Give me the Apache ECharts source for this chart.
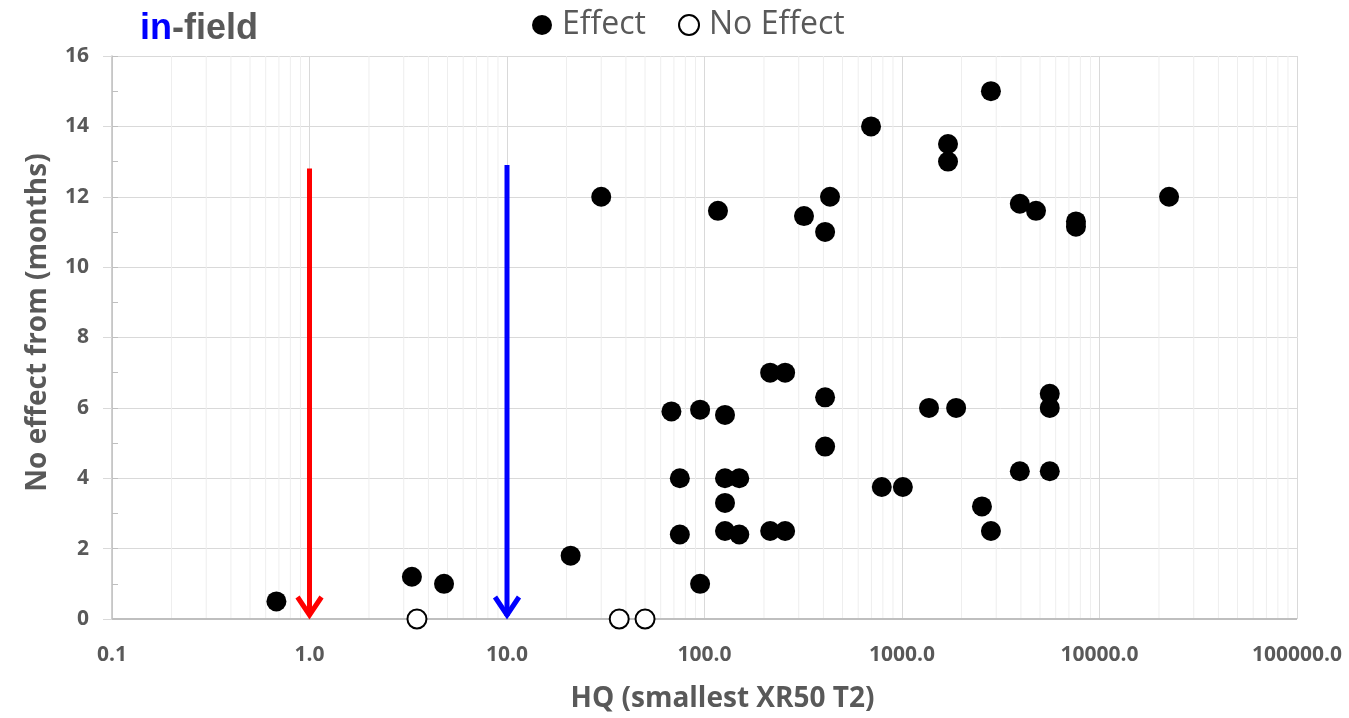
<!DOCTYPE html>
<html>
<head>
<meta charset="utf-8">
<script src="https://cdn.jsdelivr.net/npm/echarts@6/dist/echarts.min.js"></script>
<style>
  html, body { margin: 0; padding: 0; background: #fff; }
  #chart { width: 1349px; height: 718px; }
</style>
</head>
<body>
<div id="chart"></div>
<script>
// HQ values (x) and months (y)
const effectHQ = [0.68, 3.3, 4.8, 21, 30, 68, 95, 127, 75, 127, 150, 127, 75, 127, 150, 215, 256, 215, 256, 408, 408, 95,
  117, 319, 408, 432, 697, 1710, 1710, 2820, 3950, 4770, 7600, 7600, 22500, 790, 1010, 1370, 1880, 2540, 2820, 3950, 5600, 5600, 5600]
const effectMonths = [0.5, 1.2, 1.0, 1.8, 12, 5.9, 5.95, 5.8, 4.0, 4.0, 4.0, 3.3, 2.4, 2.5, 2.4, 2.5, 2.5, 7.0, 7.0, 6.3, 4.9, 1.0,
  11.6, 11.45, 11.0, 12.0, 14.0, 13.5, 13.0, 15.0, 11.8, 11.6, 11.3, 11.15, 12.0, 3.75, 3.75, 6.0, 6.0, 3.2, 2.5, 4.2, 4.2, 6.4, 6.0]
const noEffectHQ = [3.5, 37, 50]
const noEffectMonths = [0, 0, 0]
// down arrows at HQ = 1 and HQ = 10
const arrowHQ = [1, 10]
const arrowTop = [12.8, 12.9]
const xTickLabels = ['0.1', '1.0', '10.0', '100.0', '1000.0', '10000.0', '100000.0']
const yMin = 0, yMax = 16, yStep = 2

const arrowColors = ['#ff0000', '#0000ff']
const textGray = '#595959'

// minor log gridlines 2..9 of every decade
const minorX = []
for (let k = -1; k < 5; k++) {
  for (let m = 2; m <= 9; m++) minorX.push([m * Math.pow(10, k), 0])
}

var chart = echarts.init(document.getElementById('chart'))
var option = {
  animation: false,
  title: {
    text: '{a|in}{b|-field}',
    left: 135,
    top: 6,
    textStyle: {
      rich: {
        a: { color: '#0000ff', fontSize: 36, fontWeight: 'bold', fontFamily: 'Liberation Sans' },
        b: { color: textGray, fontSize: 36, fontWeight: 'bold', fontFamily: 'Liberation Sans' }
      }
    }
  },
  legend: {
    data: ['Effect', 'No Effect'],
    left: 527,
    top: 4,
    icon: 'circle',
    itemWidth: 20,
    itemHeight: 20,
    itemGap: 32,
    textStyle: {
      fontSize: 32,
      color: textGray,
      fontFamily: 'Open Sans',
      padding: [0, 0, 0, 5]
    }
  },
  grid: {
    left: 112,
    right: 52,
    top: 56,
    bottom: 99,
    containLabel: false
  },
  xAxis: {
    type: 'log',
    logBase: 10,
    min: 0.1,
    max: 100000,
    name: 'HQ (smallest XR50 T2)',
    nameLocation: 'middle',
    nameGap: 66,
    nameTextStyle: { fontSize: 28, fontWeight: 'bold', color: textGray, fontFamily: 'Open Sans', padding: [0, 0, 0, 36] },
    axisLine: { show: false },
    axisTick: { show: false },
    axisLabel: {
      color: textGray,
      fontSize: 21,
      fontWeight: 'bold',
      fontFamily: 'Open Sans',
      margin: 26,
      formatter: function (v) {
        return xTickLabels[Math.round(Math.log10(v)) + 1]
      }
    },
    splitLine: { show: true, lineStyle: { color: '#d9d9d9', width: 1 } }
  },
  yAxis: [{
    type: 'value',
    min: yMin,
    max: yMax,
    interval: yStep,
    name: 'No effect from (months)',
    nameLocation: 'middle',
    nameGap: 60,
    nameTextStyle: { fontSize: 28, fontWeight: 'bold', color: textGray, fontFamily: 'Open Sans', padding: [0, 0, 0, 30] },
    axisLine: { show: true, lineStyle: { color: '#bfbfbf', width: 1.5 } },
    axisTick: { show: true, inside: false, length: 9, lineStyle: { color: '#d9d9d9' } },
    axisLabel: {
      color: textGray,
      fontSize: 21,
      fontWeight: 'bold',
      fontFamily: 'Open Sans',
      margin: 23
    },
    splitLine: { show: true, lineStyle: { color: '#d9d9d9', width: 1 } }
  }, {
    // inner minor ticks at every month
    type: 'value',
    min: yMin,
    max: yMax,
    interval: 1,
    position: 'left',
    axisLine: { show: false },
    axisTick: { show: true, inside: true, length: 6, lineStyle: { color: '#bfbfbf' } },
    axisLabel: { show: false },
    splitLine: { show: false }
  }],
  series: [{
    type: 'custom',
    silent: true,
    z: 1,
    encode: { x: 0, y: 1 },
    renderItem: function (params, api) {
      const b = api.coord([api.value(0), yMin])
      const t = api.coord([api.value(0), yMax])
      return {
        type: 'line',
        shape: { x1: b[0], y1: b[1], x2: t[0], y2: t[1] },
        style: { stroke: '#eeeeee', lineWidth: 1 }
      }
    },
    data: minorX
  }, {
    // baseline at 0
    type: 'line',
    silent: true,
    z: 2,
    symbol: 'none',
    lineStyle: { color: '#bfbfbf', width: 2 },
    data: [[0.1, 0], [100000, 0]]
  }, {
    type: 'custom',
    silent: true,
    z: 3,
    encode: { x: 0, y: 1 },
    renderItem: function (params, api) {
      const t = api.coord([api.value(0), api.value(1)])
      const b = api.coord([api.value(0), yMin])
      const c = arrowColors[params.dataIndex]
      return {
        type: 'group',
        children: [{
          type: 'line',
          shape: { x1: t[0], y1: t[1], x2: b[0], y2: b[1] - 3 },
          style: { stroke: c, lineWidth: 5 }
        }, {
          type: 'polyline',
          shape: { points: [[b[0] - 12, b[1] - 22], [b[0], b[1] - 4], [b[0] + 12, b[1] - 22]] },
          style: { stroke: c, lineWidth: 5, fill: null, lineJoin: 'miter' }
        }]
      }
    },
    data: arrowHQ.map((x, i) => [x, arrowTop[i]])
  }, {
    name: 'Effect',
    type: 'scatter',
    z: 4,
    symbol: 'circle',
    symbolSize: 20,
    itemStyle: { color: '#000000', opacity: 1 },
    data: effectHQ.map((x, i) => [x, effectMonths[i]])
  }, {
    name: 'No Effect',
    type: 'scatter',
    z: 4,
    symbol: 'circle',
    symbolSize: 19,
    itemStyle: { color: '#ffffff', borderColor: '#000000', borderWidth: 2, opacity: 1 },
    data: noEffectHQ.map((x, i) => [x, noEffectMonths[i]])
  }]
}
chart.setOption(option)
</script>
</body>
</html>
